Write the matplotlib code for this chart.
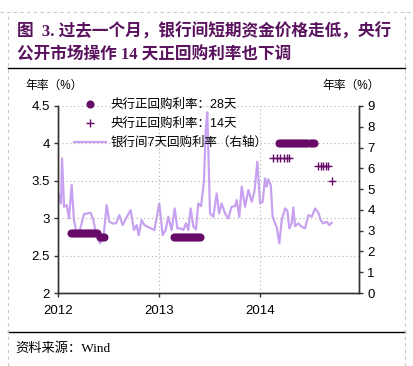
import matplotlib
matplotlib.use("Agg")
import matplotlib.pyplot as plt
from matplotlib.lines import Line2D

plt.rcParams['font.family'] = ['Liberation Sans', 'Noto Sans CJK SC']

# ========== DATA ==========
# 银行间7天回购利率 (right axis), dates as decimal years
rate7d_t = [2012.003, 2012.03, 2012.04, 2012.06, 2012.086, 2012.109, 2012.135, 2012.158,
            2012.178, 2012.211, 2012.234, 2012.257, 2012.29, 2012.323, 2012.35, 2012.383,
            2012.416, 2012.449, 2012.482, 2012.508, 2012.541, 2012.574, 2012.607, 2012.64,
            2012.673, 2012.719, 2012.752, 2012.779, 2012.799, 2012.828, 2012.855, 2012.888,
            2012.921, 2012.954, 2013.003, 2013.036, 2013.066, 2013.092, 2013.125, 2013.155,
            2013.182, 2013.214, 2013.241, 2013.267, 2013.29, 2013.313, 2013.34, 2013.366,
            2013.389, 2013.416, 2013.445, 2013.462, 2013.478, 2013.505, 2013.538, 2013.571,
            2013.594, 2013.62, 2013.654, 2013.686, 2013.719, 2013.753, 2013.769, 2013.795,
            2013.819, 2013.852, 2013.885, 2013.918, 2013.944, 2013.974, 2014.0, 2014.026,
            2014.05, 2014.066, 2014.083, 2014.106, 2014.125, 2014.149, 2014.165, 2014.191,
            2014.215, 2014.248, 2014.271, 2014.29, 2014.314, 2014.33, 2014.347, 2014.38,
            2014.413, 2014.446, 2014.479, 2014.512, 2014.545, 2014.578, 2014.6, 2014.627,
            2014.66, 2014.686, 2014.71]
rate7d = [4.79, 4.31, 6.48, 4.15, 4.23, 3.59, 5.2, 3.51,
          3.03, 2.95, 3.35, 3.8, 3.83, 3.86, 3.51, 2.71,
          2.39, 2.63, 4.23, 3.43, 3.35, 3.35, 3.75, 3.27,
          3.59, 3.99, 3.03, 3.27, 2.79, 3.51, 3.27, 3.19,
          3.11, 3.03, 4.31, 2.79, 3.03, 3.67, 3.03, 4.07,
          3.11, 3.11, 3.03, 3.35, 3.03, 4.07, 3.19, 3.06,
          4.31, 4.18, 5.36, 7.8, 8.7, 3.83, 3.67, 4.79,
          3.83, 4.31, 3.83, 3.59, 4.15, 4.18, 4.47, 3.67,
          5.12, 4.15, 4.96, 4.39, 4.87, 6.32, 4.31, 4.39,
          5.52, 5.12, 5.47, 5.2, 3.67, 3.35, 3.19, 2.39,
          3.51, 4.07, 3.96, 3.11, 3.35, 4.12, 3.22, 3.35,
          3.19, 3.11, 3.75, 3.67, 4.07, 3.86, 3.51, 3.35,
          3.43, 3.27, 3.38]

# 央行正回购利率：28天 (left axis)
repo28_t = [2012.13, 2012.15, 2012.17, 2012.19, 2012.21, 2012.23, 2012.25, 2012.27,
            2012.29, 2012.31, 2012.33, 2012.35, 2012.37, 2012.39, 2012.42, 2012.44, 2012.455,
            2013.15, 2013.17, 2013.19, 2013.21, 2013.23, 2013.25, 2013.27, 2013.29,
            2013.31, 2013.33, 2013.35, 2013.37, 2013.39, 2013.41,
            2014.19, 2014.21, 2014.23, 2014.25, 2014.27, 2014.29, 2014.31, 2014.33,
            2014.35, 2014.37, 2014.39, 2014.41, 2014.43, 2014.45, 2014.47, 2014.49,
            2014.51, 2014.53]
repo28 = [2.8] * 14 + [2.75] * 3 + [2.75] * 14 + [4.0] * 18

# 央行正回购利率：14天 (left axis)
repo14_t = [2014.129, 2014.168, 2014.198, 2014.238, 2014.267, 2014.287,
            2014.574, 2014.604, 2014.624, 2014.653, 2014.673, 2014.713]
repo14 = [3.8] * 6 + [3.7] * 5 + [3.5]

COLORS = {
    'repo': '#680a68',
    'line': '#c8a2f0',
    'title': '#5a125e',
    'grid': '#b0b0b0',
}

# ========== PLOTTING ==========
W, H = 414, 366
fig = plt.figure(figsize=(W / 100, H / 100), dpi=100)

ax = fig.add_axes([58 / W, 73 / H, 301 / W, 187 / H])
ax2 = ax.twinx()

ax2.plot(rate7d_t, rate7d, color=COLORS['line'], lw=1.6)
h28, = ax.plot(repo28_t, repo28, 'o', color=COLORS['repo'], ms=5.8, mec='none')
h14, = ax.plot(repo14_t, repo14, '+', color=COLORS['repo'], ms=5.5, mew=1.0)
h7 = Line2D([0], [0], color=COLORS['line'], lw=1.6)

ax.set_zorder(ax2.get_zorder() + 1)
ax.patch.set_visible(False)

ax.set_xlim(2012, 2014.98)
ax.set_ylim(2, 4.5)
ax2.set_ylim(0, 9)
ax.set_xticks([2012, 2013, 2014])
ax.set_xticklabels(['2012', '2013', '2014'])
ax.set_yticks([2, 2.5, 3, 3.5, 4, 4.5])
ax.set_yticklabels(['2', '2.5', '3', '3.5', '4', '4.5'])
ax2.set_yticks(range(10))

for a in (ax, ax2):
    a.spines['top'].set_visible(False)
    for s in a.spines.values():
        s.set_color('#333333')
        s.set_linewidth(1.0)
    a.tick_params(direction='out', length=3, width=1, color='#333333',
                  labelsize=9.5, pad=3)
ax.tick_params(axis='x', pad=6)

ax.grid(True, ls=(0, (1, 2.5)), color=COLORS['grid'], lw=0.8)

fig.legend([h28, h14, h7],
           ['央行正回购利率：28天', '央行正回购利率：14天', '银行间7天回购利率（右轴）'],
           loc='upper left', bbox_to_anchor=(74 / W, 1 - 99 / H), frameon=False,
           fontsize=9, handlelength=2.6, handletextpad=0.3, labelspacing=0.55,
           borderpad=0, borderaxespad=0)

# ========== TEXT & FRAME ==========
title_font = ['Liberation Serif', 'Noto Sans CJK SC']
fig.text(17 / W, 1 - 32 / H, '图  3. 过去一个月，银行间短期资金价格走低，央行',
         fontsize=12, fontweight='bold', color=COLORS['title'], family=title_font,
         ha='left', va='center')
fig.text(17 / W, 1 - 55 / H, '公开市场操作 14 天正回购利率也下调',
         fontsize=12, fontweight='bold', color=COLORS['title'], family=title_font,
         ha='left', va='center')

fig.text(25 / W, 1 - 86 / H, '年率（%）', fontsize=8.5, ha='left', va='center')
fig.text(322 / W, 1 - 86 / H, '年率（%）', fontsize=8.5, ha='left', va='center')
fig.text(15 / W, 1 - 349 / H, '资料来源：Wind', fontsize=9.5, family=title_font,
         ha='left', va='center')

for yy in (68, 332):
    fig.add_artist(Line2D([8 / W, 405 / W], [1 - yy / H, 1 - yy / H],
                          color='black', lw=1.0))
for xx in (8, 405):
    fig.add_artist(Line2D([xx / W, xx / W], [0, 1 - 12 / H],
                          color='#c8c8c8', lw=0.8, ls=(0, (3, 3))))
fig.add_artist(Line2D([0, 1], [1 - 12 / H, 1 - 12 / H],
                      color='#c8c8c8', lw=0.8, ls=(0, (3, 3))))

fig.savefig('out.png', dpi=100)
